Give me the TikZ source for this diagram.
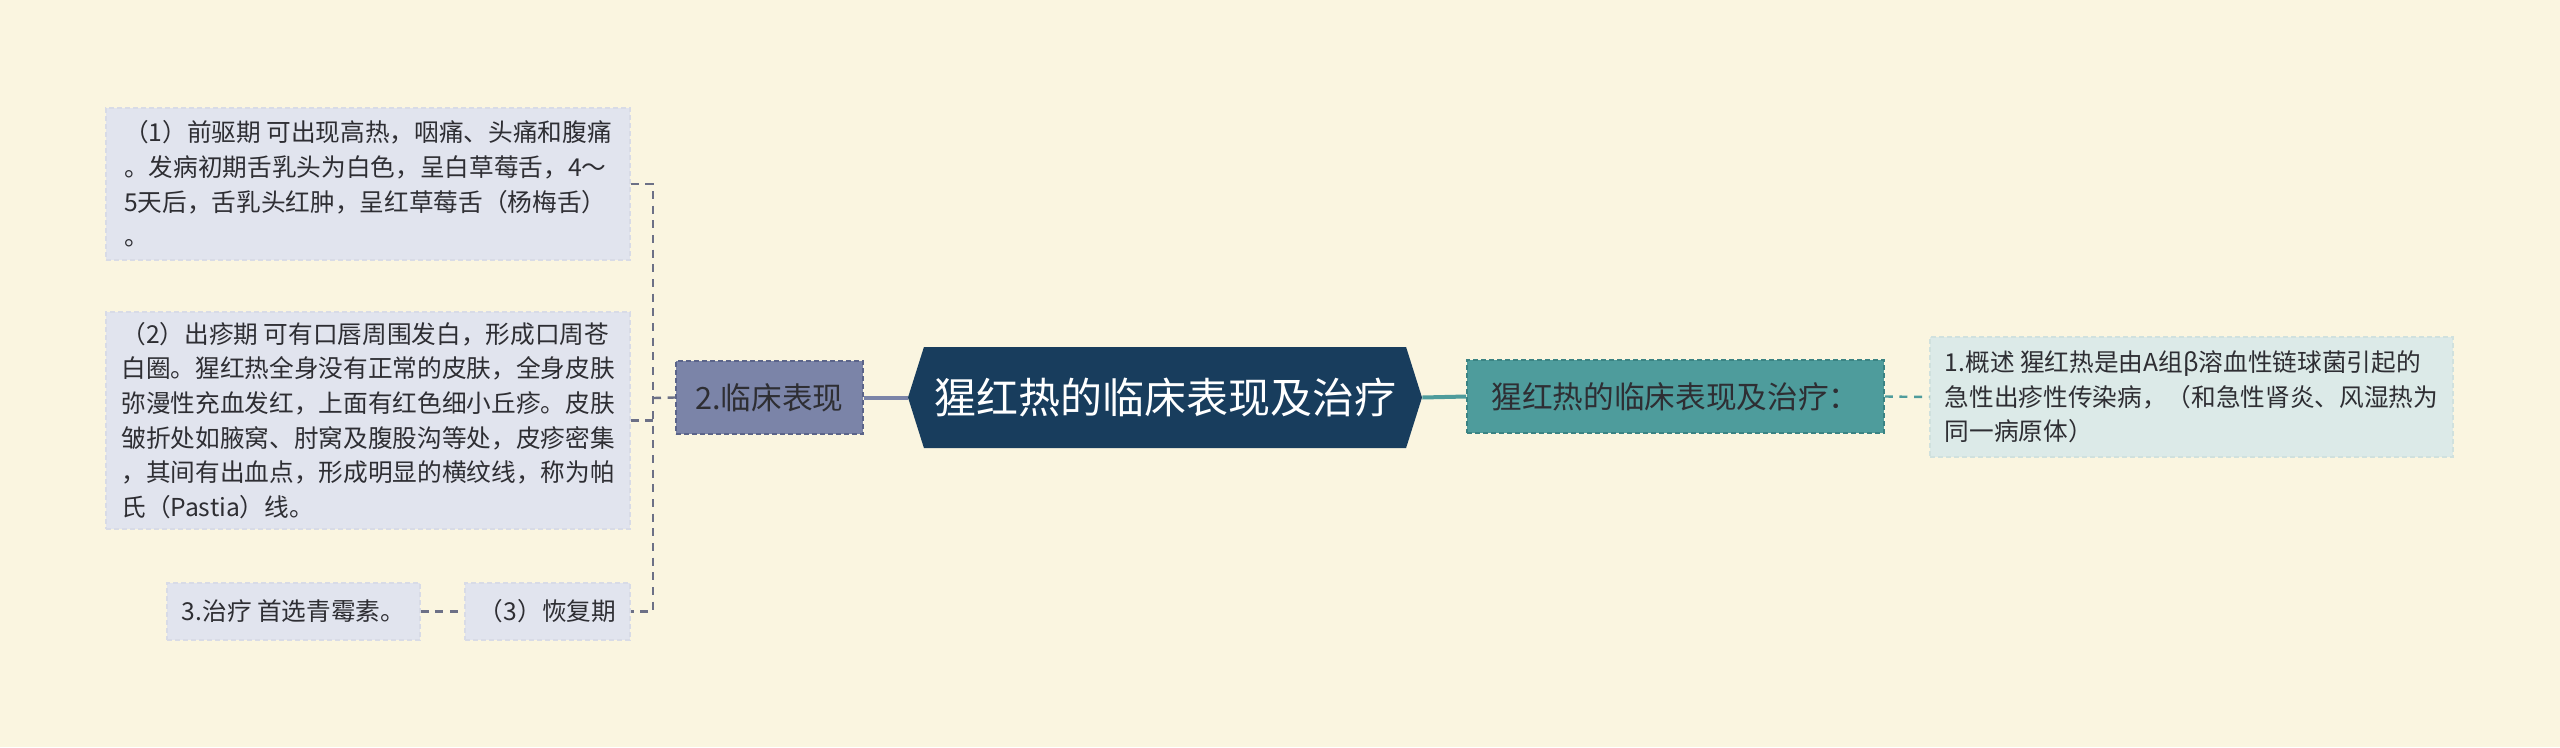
\documentclass[tikz,border=0pt]{standalone}
\usepackage{fontspec}
\setmainfont{Noto Sans CJK SC}
\usetikzlibrary{shapes.symbols}

\definecolor{cream}{HTML}{FAF5E0}
\definecolor{leafbg}{HTML}{E1E4EE}
\definecolor{leafedge}{HTML}{D8DBE6}
\definecolor{slate}{HTML}{7B84A8}
\definecolor{slateedge}{HTML}{5B6489}
\definecolor{navy}{HTML}{183D5D}
\definecolor{teal}{HTML}{4E9C9C}
\definecolor{tealedge}{HTML}{3A8383}
\definecolor{mint}{HTML}{DCEAE8}
\definecolor{mintedge}{HTML}{D0E1DE}
\definecolor{ink}{HTML}{2E2E33}
\definecolor{wire}{HTML}{6C7086}

\begin{document}
\begin{tikzpicture}[x=0.75pt, y=-0.75pt,
  leaf/.style={fill=leafbg, draw=leafedge, dash pattern=on 4pt off 2pt, line width=1pt,
    text=ink, align=left, inner sep=0pt, font=\fontsize{18.5}{26}\selectfont},
  branch/.style={fill=#1, draw=#1edge, dash pattern=on 4pt off 2pt, line width=1.2pt,
    text=ink, inner sep=0pt, minimum height=54.75pt, font=\fontsize{23}{28}\selectfont},
  link/.style={draw=#1, dash pattern=on 6pt off 5pt, line width=1.8pt},
  trunk/.style={draw=#1, line width=3pt}]
  \fill[cream] (0,0) rectangle (2560,747);

  \node[leaf, minimum width=393pt, minimum height=114pt] (early) at (368,184)
    {（1）前驱期 可出现高热，咽痛、头痛和腹痛\\
     。发病初期舌乳头为白色，呈白草莓舌，4～\\
     5天后，舌乳头红肿，呈红草莓舌（杨梅舌）\\
     。};
  \node[leaf, minimum width=393pt, minimum height=162.75pt] (rash) at (368,420.5)
    {（2）出疹期 可有口唇周围发白，形成口周苍\\
     白圈。猩红热全身没有正常的皮肤，全身皮肤\\
     弥漫性充血发红，上面有红色细小丘疹。皮肤\\
     皱折处如腋窝、肘窝及腹股沟等处，皮疹密集\\
     ，其间有出血点，形成明显的横纹线，称为帕\\
     氏（Pastia）线。};
  \node[leaf, minimum width=189.75pt, minimum height=42.75pt] (cure) at (293.5,611.5)
    {3.治疗 首选青霉素。};
  \node[leaf, minimum width=123.75pt, minimum height=42.75pt] (heal) at (547.5,611.5)
    {（3）恢复期};
  \coordinate (spine) at (653,398);

  \node[branch=slate, minimum width=140.25pt] (clinic) at (769.5,397.5) {2.临床表现};
  \node[signal, signal to=west and east, signal pointer angle=145, fill=navy,
    text=white, inner sep=0pt, minimum width=385.5pt, minimum height=75.75pt,
    font=\fontsize{31.5}{36}\selectfont] (title) at (1165,397.5) {猩红热的临床表现及治疗};
  \node[branch=teal, minimum width=312.75pt] (summary) at (1675.5,396.5)
    {猩红热的临床表现及治疗：};
  \node[leaf, fill=mint, draw=mintedge, minimum width=392.25pt, minimum height=90pt]
    (about) at (2191.5,397)
    {1.概述 猩红热是由A组β溶血性链球菌引起的\\
     急性出疹性传染病，（和急性肾炎、风湿热为\\
     同一病原体）};

  \draw[link=wire] (early.east) -| (spine) |- (heal.east);
  \draw[link=wire] (rash.east) -- (rash.east -| spine);
  \draw[link=wire] (spine) -- (clinic.west);
  \draw[link=wire] (cure.east) -- (heal.west);
  \draw[trunk=slate] (clinic.east) -- (title.west);
  \draw[trunk=teal] (title.east) -- (summary.west);
  \draw[link=teal] (summary.east) -- (about.west);
\end{tikzpicture}
\end{document}
